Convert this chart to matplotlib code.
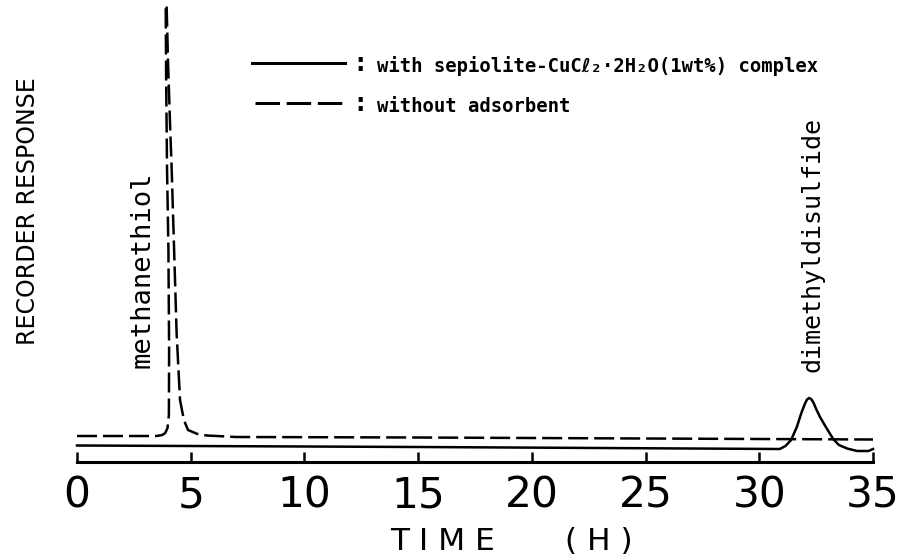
import numpy as np
import matplotlib
matplotlib.use('Agg')
import matplotlib.pyplot as plt

# 기록계 응답 (임의 단위) vs 시간(H)
# without adsorbent (dashed)
t_dash = [0, 2.0, 3.5, 3.75, 3.88, 3.98, 4.04, 4.05, 4.02, 3.96, 3.92, 3.90,
          3.94, 4.0, 4.1, 4.16, 4.27, 4.38, 4.53, 4.7, 4.88, 5.3, 5.7, 7.0,
          15, 25, 35]
r_dash = [26, 26, 26, 27, 29, 34, 47, 112, 212, 292, 380, 457,
          457, 402, 332, 295, 212, 129, 62, 42, 32, 28, 26.5, 25,
          24.5, 23.5, 22.5]

# with sepiolite-CuCl2 complex (solid)
t_solid = [0, 15, 30.9, 31.15, 31.4, 31.65, 31.85, 32.0, 32.1, 32.19, 32.28,
           32.38, 32.5, 32.67, 32.9, 33.25, 33.5, 33.86, 34.3, 34.8, 35]
r_solid = [16.5, 15, 13, 16, 22, 35, 49, 58, 62.5, 64, 63,
           59.5, 53, 45, 36, 23, 17, 13.5, 11, 11, 13]

xticks = [0, 5, 10, 15, 20, 25, 30, 35]

fig = plt.figure(figsize=(9.02, 5.59), dpi=100)
ax = fig.add_axes([77/902, 97/559, 796/902, 462/559])

ax.plot(t_solid, r_solid, color='black', lw=1.8, clip_on=False)
ax.plot(t_dash, r_dash, color='black', lw=1.8, dashes=(8, 2.4),
        dash_capstyle='butt', clip_on=False)

ax.set_xlim(0, 35)
ax.set_ylim(0, 462)
for s in ['top', 'left', 'right']:
    ax.spines[s].set_visible(False)
ax.spines['bottom'].set_linewidth(2.2)
ax.set_yticks([])
ax.set_xticks(xticks)
ax.set_xticklabels([str(v) for v in xticks], fontsize=30.5)
ax.tick_params(axis='x', direction='in', length=7, width=1.8, pad=9)

# 범례 (직접 그림)
ax.plot([7.70, 11.79], [399, 399], color='black', lw=2.2, clip_on=False)
ax.plot([7.83, 11.79], [359, 359], color='black', lw=2.2, dashes=(8, 2.2),
        dash_capstyle='butt', clip_on=False)
ax.text(12.44, 398, ':', fontsize=17, fontweight='bold', ha='center', va='center')
ax.text(12.44, 358, ':', fontsize=17, fontweight='bold', ha='center', va='center')
mono = ['DejaVu Sans Mono', 'DejaVu Sans']
ax.text(13.19, 396, 'with sepiolite-CuCℓ₂·2H₂O(1wt%) complex', fontsize=13.6,
        family=mono, fontweight='bold', ha='left', va='center')
ax.text(13.19, 355, 'without adsorbent', fontsize=13.6,
        family=mono, fontweight='bold', ha='left', va='center')

# 피크 라벨
ax.text(2.90, 192, 'methanethiol', fontsize=19.5, family=mono, rotation=90,
        ha='center', va='center')
ax.text(32.32, 218, 'dimethyldisulfide', fontsize=18, family=mono, rotation=90,
        ha='center', va='center')

# 축 제목
fig.text(28/902, 1 - 211/559, 'RECORDER RESPONSE', fontsize=17, rotation=90,
         ha='center', va='center')
fig.text(390/902, 1 - 541/559, 'T I M E', fontsize=22.5, ha='left', va='center')
fig.text(565/902, 1 - 541/559, '( H )', fontsize=22.5, ha='left', va='center')

fig.savefig('out.png', dpi=100)
